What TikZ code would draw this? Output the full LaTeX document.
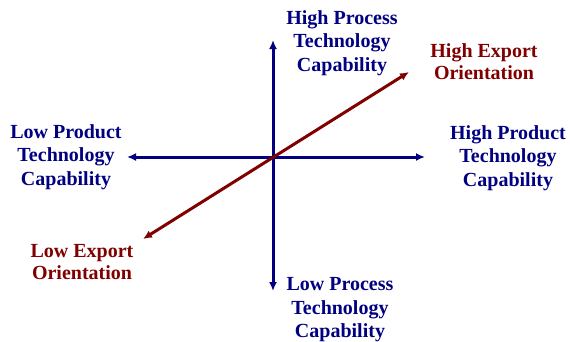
\documentclass[tikz,border=0pt]{standalone}
\usepackage{fontspec}
\setmainfont{Liberation Serif}
\usetikzlibrary{arrows.meta, positioning}
\definecolor{axisblue}{RGB}{0,0,128}
\definecolor{exportred}{RGB}{128,0,0}

\begin{document}
\begin{tikzpicture}[x=1pt, y=-1pt,
      axis/.style={draw=axisblue, line width=3pt, {Latex[length=9pt,width=8pt]}-{Latex[length=9pt,width=8pt]}},
      export/.style={draw=exportred, line width=3pt, {Latex[length=9pt,width=8pt]}-{Latex[length=9pt,width=8pt]}},
      blabel/.style={align=center, text=axisblue, font=\fontsize{20}{23.5}\selectfont\bfseries, inner sep=0pt},
      rlabel/.style={align=center, text=exportred, font=\fontsize{20}{22}\selectfont\bfseries, inner sep=0pt}]

      \useasboundingbox (0,0) rectangle (570,341);

      % axis ends
      \coordinate (origin) at (273,157);
      \coordinate (left) at (127,157);
      \coordinate (right) at (425,157);
      \coordinate (top) at (273,40);
      \coordinate (bottom) at (273,291);
      \coordinate (lowexp) at (143,239);
      \coordinate (highexp) at (409,72);

      \draw[axis] (left) -- (right);
      \draw[axis] (bottom) -- (top);
      \draw[export] (lowexp) -- (highexp);

      % Labels
      \node[blabel] (hiproc) at (342,43) {High Process\\Technology\\Capability};
      \node[blabel] (loproc) at (340,310) {Low Process\\Technology\\Capability};
      \node[blabel] (loprod) at (66,157) {Low Product\\Technology\\Capability};
      \node[blabel] (hiprod) at (508,158) {High Product\\Technology\\Capability};
      \node[rlabel] (hiexp) at (484,62) {High Export\\Orientation};
      \node[rlabel] (loexpl) at (82,262) {Low Export\\Orientation};
    \end{tikzpicture}
\end{document}
